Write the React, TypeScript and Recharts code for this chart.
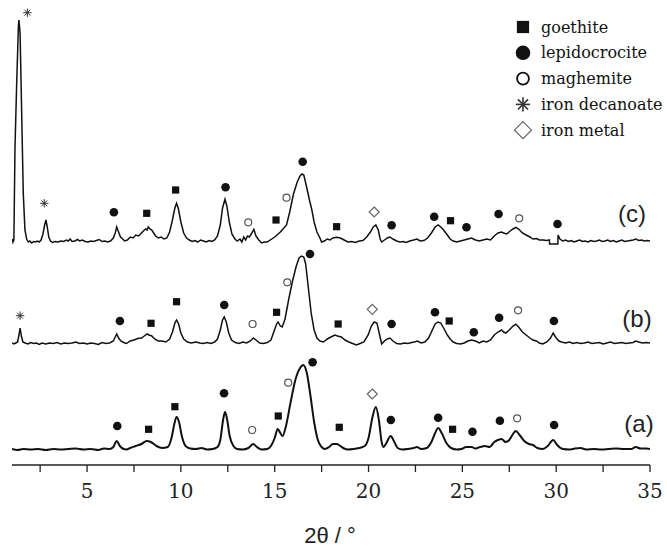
import { ComposedChart, Line, Scatter, XAxis, YAxis } from 'recharts'

// 2θ tick positions (labels only on multiples of 5)
const TICKS = [2.5, 5, 7.5, 10, 12.5, 15, 17.5, 20, 22.5, 25, 27.5, 30, 32.5, 35]

// vertical offsets used to stack the three patterns
const OFFSETS = { a: 15, b: 121, c: 223 }

// [2θ, intensity above own baseline]
const TRACE_A: [number, number][] = [
  [1.0, 1], [1.3, 0], [1.6, 1], [2.0, 0.5], [2.4, 1], [2.8, 0], [3.2, 1], [3.6, 0.5], [4.0, 1], [4.4, 1.5],
  [4.8, 0.5], [5.2, 1], [5.6, 0], [5.9, 1.5], [6.2, 1], [6.4, 3], [6.58, 9], [6.75, 4], [6.9, 1.5], [7.1, 0.5],
  [7.3, 2], [7.6, 4], [7.9, 6], [8.18, 9], [8.4, 8], [8.7, 4], [9.0, 2], [9.3, 3], [9.5, 12], [9.65, 26],
  [9.77, 33], [9.9, 28], [10.05, 14], [10.25, 4], [10.5, 1.5], [10.8, 1], [11.1, 2], [11.4, 0.5], [11.7, 1], [11.95, 3],
  [12.1, 10], [12.25, 30], [12.35, 38], [12.45, 32], [12.6, 14], [12.8, 4], [13.0, 1], [13.3, 0.5], [13.6, 2], [13.86, 6],
  [14.05, 3], [14.3, 0.5], [14.6, 1], [14.8, 4], [15.0, 12], [15.16, 21], [15.3, 17], [15.42, 14], [15.6, 24], [15.85, 48],
  [16.1, 70], [16.35, 82], [16.52, 85], [16.7, 78], [16.9, 55], [17.1, 28], [17.3, 10], [17.5, 3], [17.68, 1], [17.9, 3],
  [18.1, 6], [18.3, 6], [18.5, 4], [18.7, 1.5], [18.9, 0.5], [19.2, 1], [19.5, 2], [19.8, 4], [20.0, 12], [20.2, 32],
  [20.39, 43], [20.55, 30], [20.7, 8], [20.8, 3], [20.95, 7], [21.18, 14], [21.35, 9], [21.55, 2], [21.8, 0.5], [22.1, 1],
  [22.4, 2], [22.58, 3], [22.8, 1], [23.1, 2], [23.35, 8], [23.55, 17], [23.71, 22], [23.9, 17], [24.15, 7], [24.4, 2],
  [24.7, 0.5], [24.95, 1], [25.2, 3], [25.49, 3], [25.7, 1.5], [25.95, 3], [26.2, 4], [26.45, 3], [26.7, 8], [26.9, 10],
  [27.09, 11], [27.3, 8], [27.5, 10], [27.7, 16], [27.85, 19], [28.05, 15], [28.3, 9], [28.55, 6], [28.76, 5], [29.0, 2],
  [29.29, 1], [29.55, 4], [29.84, 10], [30.05, 5], [30.36, 1], [30.7, 0.5], [31.0, 1.5], [31.3, 2], [31.6, 0.5], [32.0, 1],
  [32.4, 0.5], [32.8, 1], [33.2, 1.5], [33.6, 1], [34.0, 1], [34.24, 3], [34.5, 1.5], [34.8, 1.5], [35.0, 1],
]

const TRACE_B: [number, number][] = [
  [1.0, 1], [1.1, 0], [1.2, 1], [1.3, 2], [1.38, 10], [1.43, 16], [1.5, 8], [1.58, 2], [1.7, 1], [1.85, 0],
  [2.0, 1.5], [2.15, 0.5], [2.3, 1], [2.45, -0.5], [2.6, 1], [2.8, 0], [3.0, 1], [3.2, 0.5], [3.4, 1.5], [3.6, 0],
  [3.8, 1], [4.0, 0.5], [4.2, 1], [4.4, 2], [4.6, 0.5], [4.8, 1], [5.0, 0], [5.2, 1], [5.4, 0.5], [5.6, -0.5],
  [5.8, 1.5], [6.0, 0.5], [6.2, 1], [6.4, 3], [6.5, 7], [6.58, 10], [6.68, 6], [6.8, 3], [6.95, 1.5], [7.1, 0.5],
  [7.3, 3], [7.5, 4], [7.7, 5.5], [7.9, 6], [8.05, 8], [8.2, 10], [8.3, 9], [8.45, 8], [8.6, 5], [8.8, 3],
  [9.0, 3], [9.2, 2], [9.4, 5], [9.55, 12], [9.68, 21], [9.77, 24], [9.88, 20], [10.0, 11], [10.15, 5], [10.35, 2],
  [10.55, 1], [10.8, 2], [11.0, 1], [11.2, 0.5], [11.4, 1.5], [11.6, 0.5], [11.8, 2], [11.95, 5], [12.1, 14], [12.22, 24],
  [12.31, 27], [12.42, 22], [12.55, 11], [12.7, 4], [12.9, 1.5], [13.1, 0.5], [13.3, 2], [13.5, 1], [13.7, 3], [13.86, 6],
  [14.0, 4], [14.2, 1], [14.4, 0.5], [14.6, 1.5], [14.8, 4], [14.95, 12], [15.1, 20], [15.18, 22], [15.3, 18], [15.4, 17],
  [15.55, 25], [15.75, 45], [15.95, 63], [16.15, 78], [16.3, 86], [16.42, 88], [16.55, 87], [16.65, 80], [16.8, 55], [16.95, 30],
  [17.1, 14], [17.25, 6], [17.41, 3], [17.6, 2], [17.8, 5], [18.0, 7], [18.2, 9], [18.35, 8], [18.55, 7], [18.75, 4],
  [18.95, 2], [19.15, 0.5], [19.36, -1], [19.55, 0.5], [19.75, 2], [19.98, 9], [20.15, 18], [20.3, 22], [20.45, 21], [20.58, 10],
  [20.7, 0], [20.85, 3], [21.0, 5], [21.14, 6], [21.3, 3], [21.5, 0.5], [21.7, 0], [21.9, 1], [22.1, 0.5], [22.3, 1.5],
  [22.45, 2], [22.6, 3], [22.8, 1], [23.0, 2], [23.2, 6], [23.4, 14], [23.55, 20], [23.7, 22], [23.85, 21], [24.0, 16],
  [24.2, 9], [24.35, 5], [24.51, 2], [24.7, 0.5], [24.9, 0], [25.1, 1], [25.3, 3], [25.49, 4], [25.7, 3], [25.9, 1],
  [26.1, 3], [26.3, 2], [26.5, 4], [26.7, 9], [26.9, 12], [27.09, 14], [27.2, 12], [27.32, 11], [27.5, 14], [27.7, 18],
  [27.85, 19.7], [28.0, 17], [28.2, 12], [28.4, 9], [28.6, 6], [28.76, 4], [28.95, 3], [29.1, 1], [29.29, 0], [29.5, 2],
  [29.7, 6], [29.84, 11], [30.0, 6], [30.15, 3], [30.28, 2], [30.5, 1], [30.7, 2], [30.9, 0.5], [31.1, 1.5], [31.3, 0.5],
  [31.5, 1], [31.7, 2], [31.9, 0.5], [32.1, 1], [32.3, 1.5], [32.5, 0], [32.7, 1], [32.9, 2], [33.1, 0.5], [33.3, 1],
  [33.5, 1.5], [33.7, 0.5], [33.9, 1], [34.1, 1.5], [34.24, 3], [34.4, 2], [34.6, 1], [34.8, 1.5], [35.0, 1],
]

const TRACE_C: [number, number][] = [
  [1.02, 3], [1.05, 0], [1.1, 2], [1.16, 95], [1.25, 159], [1.34, 215], [1.37, 222], [1.43, 209], [1.52, 125], [1.6, 49],
  [1.69, 12], [1.78, 3], [1.87, 0], [1.95, 1], [2.05, -1], [2.15, 0.5], [2.25, 0], [2.35, 1], [2.45, 0], [2.55, 2],
  [2.65, 8], [2.74, 17], [2.81, 22], [2.88, 15], [2.96, 5], [3.05, 1], [3.15, -0.5], [3.3, 0.5], [3.45, 0], [3.6, 1],
  [3.75, 0.5], [3.9, 2], [4.0, 1], [4.1, 3], [4.2, 0.5], [4.35, 1], [4.5, 2.5], [4.6, 1], [4.75, 2], [4.9, 0.5],
  [5.05, 0], [5.2, 1], [5.35, 0.5], [5.5, 1.5], [5.65, 2.5], [5.8, 0.5], [5.95, 1], [6.1, 0], [6.25, 1], [6.4, 4],
  [6.5, 9], [6.58, 15], [6.68, 10], [6.78, 5], [6.9, 3], [7.0, 1], [7.15, 2], [7.3, 5], [7.45, 4], [7.6, 7],
  [7.75, 6], [7.9, 9], [8.0, 11], [8.12, 13], [8.2, 12], [8.26, 15], [8.35, 13], [8.45, 12], [8.55, 9], [8.65, 6],
  [8.8, 4], [8.95, 5], [9.1, 3], [9.25, 4], [9.4, 10], [9.55, 22], [9.68, 34], [9.77, 38.7], [9.87, 33], [10.0, 20],
  [10.15, 9], [10.3, 4], [10.45, 2], [10.6, 0.5], [10.75, 1.5], [10.9, 0], [11.05, 2], [11.2, 1], [11.35, 0], [11.5, 1.5],
  [11.65, 0.5], [11.8, 2], [11.95, 6], [12.1, 17], [12.22, 34], [12.35, 42.7], [12.45, 36], [12.58, 20], [12.72, 8], [12.88, 3],
  [13.0, 1], [13.15, 3], [13.25, 0], [13.35, 5], [13.45, 2], [13.55, 6], [13.65, 5], [13.75, 8], [13.89, 12.7], [14.0, 6],
  [14.15, 2], [14.3, -1], [14.45, 0], [14.6, 0], [15.0, 5], [15.3, 10], [15.63, 17], [15.8, 30], [16.0, 48], [16.2, 60],
  [16.35, 66], [16.45, 68], [16.55, 67], [16.7, 55], [16.85, 42], [16.97, 33], [17.1, 20], [17.25, 10], [17.41, 4], [17.5, 0],
  [17.65, 1], [17.8, 3], [17.95, 2], [18.1, 4], [18.3, 4.7], [18.5, 4], [18.7, 2], [18.9, 0], [19.1, 0.5], [19.3, -0.5],
  [19.5, 1], [19.7, 1.5], [19.9, 5], [20.1, 10], [20.25, 15], [20.39, 17], [20.52, 12], [20.62, 3], [20.7, 0], [20.85, 2],
  [21.0, 4], [21.14, 5], [21.3, 3], [21.5, 1], [21.67, 0], [21.85, 0.5], [22.0, -0.5], [22.2, 1], [22.4, 2], [22.58, 3],
  [22.75, 1], [22.95, 1.5], [23.15, 4], [23.35, 9], [23.55, 15], [23.71, 17], [23.85, 15], [24.0, 12], [24.2, 7], [24.35, 3],
  [24.51, 1], [24.7, 0], [24.9, 1], [25.1, 2], [25.3, 3], [25.49, 4], [25.7, 2], [25.9, 1], [26.1, 2], [26.3, 3],
  [26.5, 2], [26.7, 6], [26.9, 9], [27.09, 10], [27.2, 9], [27.36, 8], [27.55, 11], [27.7, 13], [27.85, 14.7], [28.0, 13],
  [28.2, 9], [28.4, 7], [28.6, 5], [28.76, 3], [28.95, 3.5], [29.1, 2], [29.3, 2], [29.5, 1.5], [29.64, 2], [29.65, -2],
  [30.09, -2], [30.1, 7], [30.2, 3], [30.35, 1], [30.5, 2], [30.65, 0.5], [30.8, 1.5], [30.95, 0], [31.1, 1], [31.25, 2],
  [31.4, 0.5], [31.55, 1], [31.7, 0], [31.85, 1.5], [32.0, 0.5], [32.15, 1], [32.3, 2], [32.45, 0.5], [32.6, 1], [32.75, 2],
  [32.9, 0.5], [33.05, 1.5], [33.2, 0], [33.35, 1], [33.5, 2], [33.65, 0.5], [33.8, 1], [33.95, 1.5], [34.1, 2], [34.24, 3],
  [34.4, 1.5], [34.55, 2], [34.7, 1], [34.85, 1.5], [35.0, 1],
]

// phase markers: [2θ, plotted height] for all three patterns
const GOETHITE: [number, number][] = [
  [8.18, 251.7], [9.72, 275], [15.07, 245], [18.3, 238.3], [24.37, 244.3],
  [8.41, 141.7], [9.77, 163.3], [15.1, 152.7], [18.38, 141], [24.3, 144],
  [8.28, 35.7], [9.68, 58.3], [15.19, 49], [18.44, 37.7], [24.48, 35.7],
]
const LEPIDOCROCITE: [number, number][] = [
  [6.43, 252.7], [12.38, 277.7], [16.49, 303.3], [21.23, 239.7], [23.5, 248.3], [25.22, 237.7], [26.93, 251], [30.07, 241],
  [6.75, 144], [12.31, 160], [16.88, 211], [21.23, 141], [23.54, 152.7], [25.61, 132.7], [26.96, 147.3], [29.88, 144],
  [6.61, 39], [12.3, 71.7], [17.02, 102.7], [21.19, 45], [23.71, 47.3], [25.54, 33.3], [27.0, 44.3], [29.89, 40],
]
const MAGHEMITE: [number, number][] = [
  [13.59, 242.7], [15.63, 267.3], [28.03, 246.7],
  [13.82, 141], [15.67, 182.7], [27.97, 154.7],
  [13.8, 35], [15.72, 82.3], [27.92, 46.7],
]
const DECANOATE: [number, number][] = [[1.82, 452.3], [2.72, 261.7], [1.43, 149.3]]
const IRON_METAL: [number, number][] = [[20.3, 253], [20.2, 155.7], [20.2, 71]]

const SAMPLE_LABELS = ['(c)', '(b)', '(a)']

const SERIF = '"DejaVu Serif", "Liberation Serif", serif'
const SANS = '"Liberation Sans", Arial, sans-serif'

type Kind = 'square' | 'dot' | 'ring' | 'star' | 'diamond'

const PHASES: { name: string; kind: Kind; points: [number, number][] }[] = [
  { name: 'goethite', kind: 'square', points: GOETHITE },
  { name: 'lepidocrocite', kind: 'dot', points: LEPIDOCROCITE },
  { name: 'maghemite', kind: 'ring', points: MAGHEMITE },
  { name: 'iron decanoate', kind: 'star', points: DECANOATE },
  { name: 'iron metal', kind: 'diamond', points: IRON_METAL },
]

const toPoints = (trace: [number, number][], offset = 0) => trace.map(([x, y]) => ({ x, y: y + offset }))

function Marker({ kind, cx, cy, s = 1 }: { kind: Kind; cx: number; cy: number; s?: number }) {
  if (kind === 'square') {
    const h = 3.6 * s
    return <rect x={cx - h} y={cy - h} width={2 * h} height={2 * h} fill="#111" />
  }
  if (kind === 'dot') return <circle cx={cx} cy={cy} r={4.3 * s} fill="#111" />
  if (kind === 'ring')
    return <circle cx={cx} cy={cy} r={3.5 * s} fill="none" stroke={s > 1 ? '#111' : '#555'} strokeWidth={s > 1 ? 1.8 : 1.2} />
  if (kind === 'diamond') {
    const h = 5 * s
    return (
      <polygon
        points={`${cx},${cy - h} ${cx + h},${cy} ${cx},${cy + h} ${cx - h},${cy}`}
        fill="none"
        stroke="#666"
        strokeWidth={1.2}
      />
    )
  }
  const r = 4.2 * s
  const d = r * 0.707
  return (
    <g stroke="#333" strokeWidth={s > 1 ? 1.6 : 1}>
      <line x1={cx} y1={cy - r} x2={cx} y2={cy + r} />
      <line x1={cx - r} y1={cy} x2={cx + r} y2={cy} />
      <line x1={cx - d} y1={cy - d} x2={cx + d} y2={cy + d} />
      <line x1={cx - d} y1={cy + d} x2={cx + d} y2={cy - d} />
    </g>
  )
}

function TwoThetaTick({ x, y, payload }: any) {
  if (payload.value % 5 !== 0) return <g />
  return (
    <text x={x} y={y + 24} textAnchor="middle" style={{ fontFamily: SERIF, fontSize: 20 }} fill="#222">
      {payload.value}
    </text>
  )
}

export default function App() {
  return (
    <div style={{ position: 'absolute', left: 0, top: 0, width: 667, height: 549, background: '#fff' }}>
      <ComposedChart width={667} height={549} margin={{ top: 0, right: 17, bottom: 0, left: 12 }}>
        <XAxis
          dataKey="x"
          type="number"
          domain={[1, 35]}
          ticks={TICKS}
          interval={0}
          allowDataOverflow
          height={84}
          tickSize={7}
          axisLine={{ stroke: '#222', strokeWidth: 1.5 }}
          tickLine={{ stroke: '#222', strokeWidth: 1.3 }}
          tick={<TwoThetaTick />}
        />
        <YAxis dataKey="y" type="number" domain={[0, 465]} allowDataOverflow hide />
        <Line data={toPoints(TRACE_C, OFFSETS.c)} dataKey="y" type="linear" stroke="#111" strokeWidth={1.5} dot={false} isAnimationActive={false} />
        <Line data={toPoints(TRACE_B, OFFSETS.b)} dataKey="y" type="linear" stroke="#111" strokeWidth={1.5} dot={false} isAnimationActive={false} />
        <Line data={toPoints(TRACE_A, OFFSETS.a)} dataKey="y" type="monotone" stroke="#111" strokeWidth={2} dot={false} isAnimationActive={false} />
        {PHASES.map((p) => (
          <Scatter
            key={p.name}
            data={toPoints(p.points)}
            dataKey="y"
            isAnimationActive={false}
            shape={(props: any) => <Marker kind={p.kind} cx={props.cx} cy={props.cy} />}
          />
        ))}
      </ComposedChart>

      <svg width={667} height={549} style={{ position: 'absolute', left: 0, top: 0, pointerEvents: 'none' }}>
        {PHASES.map((p, i) => (
          <g key={p.name}>
            <Marker kind={p.kind} cx={523} cy={27 + i * 25.8} s={1.7} />
            <text x={541} y={32.5 + i * 25.8} style={{ fontFamily: SERIF, fontSize: 16 }} fill="#111">
              {p.name}
            </text>
          </g>
        ))}
        {SAMPLE_LABELS.map((label, i) => (
          <text
            key={label}
            x={[632, 637, 639][i]}
            y={[222, 327, 432][i]}
            textAnchor="middle"
            style={{ fontFamily: SANS, fontSize: 24 }}
            fill="#222"
          >
            {label}
          </text>
        ))}
        <text x={330} y={543} textAnchor="middle" style={{ fontFamily: SANS, fontSize: 22 }} fill="#222">
          2θ / °
        </text>
      </svg>
    </div>
  )
}
